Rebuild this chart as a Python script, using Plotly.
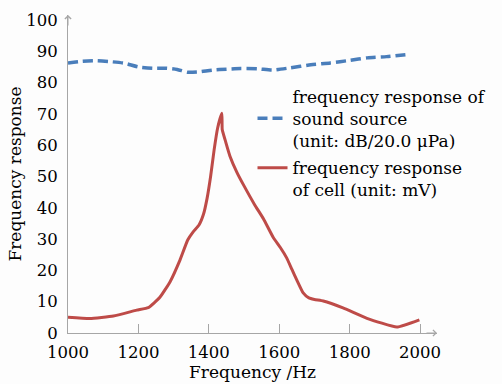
import plotly.graph_objects as go

# Sound source frequency response (dB / 20.0 µPa)
src_freq = [1000, 1040, 1080, 1120, 1160, 1200, 1240, 1280, 1310, 1340, 1370, 1410,
            1450, 1490, 1540, 1580, 1630, 1690, 1745, 1800, 1850, 1905, 1965]
src_val = [86.3, 86.8, 87.0, 86.7, 86.2, 85.0, 84.6, 84.6, 84.2, 83.3, 83.4, 84.0,
           84.3, 84.5, 84.4, 84.0, 84.7, 85.7, 86.3, 87.1, 87.9, 88.3, 89.0]

# Cell frequency response (mV)
cell_freq = [1000, 1062, 1129, 1195, 1228, 1261, 1290, 1318, 1340, 1356, 1372,
             1385, 1395, 1405, 1415, 1425, 1437, 1438, 1448, 1460, 1479, 1500,
             1530, 1555, 1583, 1603, 1621, 1636, 1650, 1668, 1684, 1700, 1725,
             1781, 1849, 1934, 1998]
cell_val = [5.0, 4.6, 5.4, 7.3, 8.1, 11.4, 16.4, 23.3, 29.7, 32.4, 34.5,
            38.0, 43.0, 50.0, 58.5, 65.5, 70.2, 65.0, 61.0, 56.5, 51.5, 47.0,
            41.0, 36.5, 30.5, 27.3, 24.0, 20.3, 16.9, 12.8, 11.2, 10.7, 10.2,
            8.0, 4.7, 1.9, 4.2]

x_ticks = [1000, 1200, 1400, 1600, 1800, 2000]
y_ticks = [0, 10, 20, 30, 40, 50, 60, 70, 80, 90, 100]

name_src = "frequency response of<br>sound source<br>(unit: dB/20.0 μPa)"
name_cell = "frequency response<br>of cell (unit: mV)"

FONT = "DejaVu Serif"
AX = "#a6a6a6"

fig = go.Figure()
fig.add_trace(go.Scatter(x=src_freq, y=src_val, mode="lines", name=name_src,
                         line=dict(color="#4a7ebb", width=3.5, dash="10px,5px", shape="spline", smoothing=0.6),
                         legend="legend"))
fig.add_trace(go.Scatter(x=cell_freq, y=cell_val, mode="lines", name=name_cell,
                         line=dict(color="#be4b48", width=3, shape="spline", smoothing=0.4),
                         legend="legend2"))

X_MAX = 2048
Y_MAX = 101.6

fig.update_layout(
    width=502, height=384,
    margin=dict(l=68, r=65, t=15, b=51, autoexpand=False),
    paper_bgcolor="#fdfdfd", plot_bgcolor="#fdfdfd",
    font=dict(family=FONT, size=16, color="#000000"),
    showlegend=True,
    legend=dict(x=0.50, y=0.80, xanchor="left", yanchor="top", bgcolor="rgba(0,0,0,0)",
                font=dict(family=FONT, size=17), valign="middle", itemwidth=30),
    legend2=dict(x=0.50, y=0.575, xanchor="left", yanchor="top", bgcolor="rgba(0,0,0,0)",
                 font=dict(family=FONT, size=17), valign="top", itemwidth=30),
    xaxis=dict(range=[1000, X_MAX], tickvals=x_ticks, ticktext=[str(v) for v in x_ticks],
               showgrid=False, zeroline=False, showline=True, linecolor=AX, linewidth=1,
               ticks="inside", ticklen=9, tickcolor=AX, tickwidth=1, automargin=False,
               tickfont=dict(family=FONT, size=16.5), ticklabelstandoff=4,
               title=dict(text="Frequency /Hz", font=dict(family=FONT, size=17), standoff=1)),
    yaxis=dict(range=[0, Y_MAX], tickvals=y_ticks, showgrid=False, zeroline=False,
               showline=True, linecolor=AX, linewidth=1, ticks="", automargin=False,
               tickfont=dict(family=FONT, size=16.5), ticklabelstandoff=6,
               title=dict(text="Frequency response", font=dict(family=FONT, size=17), standoff=0)),
)

# axis arrowheads
fig.add_annotation(x=X_MAX, y=0, xref="x", yref="y", ax=-12, ay=0, text="", showarrow=True,
                   arrowhead=4, arrowsize=1.2, arrowwidth=1, arrowcolor=AX, standoff=0)
fig.add_annotation(x=1000, y=Y_MAX, xref="x", yref="y", ax=0, ay=12, text="", showarrow=True,
                   arrowhead=4, arrowsize=1.2, arrowwidth=1, arrowcolor=AX, standoff=0)

fig.write_html("out.html", config={"displayModeBar": False},
               post_script="document.body.style.margin='0px';")
